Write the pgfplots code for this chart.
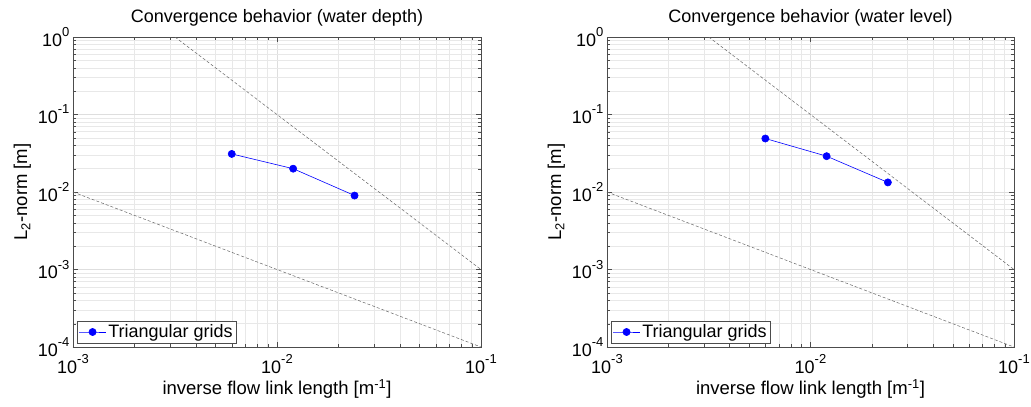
\documentclass[border=0pt]{standalone}
\usepackage{fontspec}
\setmainfont{Liberation Sans}
\usepackage{pgfplots}
\pgfplotsset{compat=1.18}

\definecolor{mblue}{RGB}{0,0,255}
\newcommand{\fsz}{\fontsize{18}{21}\selectfont}
\newcommand{\lsz}{\fontsize{18.5}{22}\selectfont}
\newcommand{\sps}[1]{\raisebox{0.55em}{\fontsize{13}{15}\selectfont #1}}

\begin{document}
\begin{tikzpicture}
\useasboundingbox (0,0) rectangle (1031pt,-407pt);

% left: water depth
\begin{loglogaxis}[
    at={(73pt,-347pt)}, anchor=south west,
    scale only axis, width=408pt, height=310pt,
    xmin=1e-3, xmax=1e-1, ymin=1e-4, ymax=1,
    xtick={1e-3,1e-2,1e-1},
    xticklabels={10\sps{-3},10\sps{-2},10\sps{-1}},
    ytick={1e-4,1e-3,1e-2,1e-1,1},
    yticklabels={10\sps{-4},10\sps{-3},10\sps{-2},10\sps{-1},10\sps{0}},
    grid=both,
    major grid style={black!13},
    minor grid style={black!9},
    axis line style={black!70},
    tick style={black!70},
    major tick length=5pt, minor tick length=3pt,
    tick label style={font=\fsz},
    xticklabel style={yshift=-4pt},
    label style={font=\lsz},
    xlabel style={yshift=1pt},
    title style={font=\fsz, yshift=1pt},
    title={Convergence behavior (water depth)},
    xlabel={inverse flow link length [m\textsuperscript{-1}]},
    ylabel={L\textsubscript{2}-norm [m]},
    legend style={font=\fsz, at={(0.01,0.013)}, anchor=south west,
        draw=black!70, inner sep=1.5pt},
    legend cell align=left,
    legend image code/.code={\draw[mark repeat=2,mark phase=2,#1]
        plot coordinates {(0pt,0pt) (13.5pt,0pt) (27pt,0pt)};},
]
\addplot[black!60, densely dashed, line width=0.5pt, forget plot] coordinates {(0.003162,1) (0.1,0.001)};
\addplot[black!60, densely dashed, line width=0.5pt, forget plot] coordinates {(0.001,0.01) (0.1,0.0001)};
\addplot[mblue, line width=0.6pt, mark=*, mark size=3.6pt, mark options={fill=mblue}] coordinates {
    (0.006,0.031) (0.012,0.020) (0.024,0.009)
};
\addlegendentry{Triangular grids}
\end{loglogaxis}

% right: water level
\begin{loglogaxis}[
    at={(607pt,-347pt)}, anchor=south west,
    scale only axis, width=407pt, height=310pt,
    xmin=1e-3, xmax=1e-1, ymin=1e-4, ymax=1,
    xtick={1e-3,1e-2,1e-1},
    xticklabels={10\sps{-3},10\sps{-2},10\sps{-1}},
    ytick={1e-4,1e-3,1e-2,1e-1,1},
    yticklabels={10\sps{-4},10\sps{-3},10\sps{-2},10\sps{-1},10\sps{0}},
    grid=both,
    major grid style={black!13},
    minor grid style={black!9},
    axis line style={black!70},
    tick style={black!70},
    major tick length=5pt, minor tick length=3pt,
    tick label style={font=\fsz},
    xticklabel style={yshift=-4pt},
    label style={font=\lsz},
    xlabel style={yshift=1pt},
    title style={font=\fsz, yshift=1pt},
    title={Convergence behavior (water level)},
    xlabel={inverse flow link length [m\textsuperscript{-1}]},
    ylabel={L\textsubscript{2}-norm [m]},
    legend style={font=\fsz, at={(0.01,0.013)}, anchor=south west,
        draw=black!70, inner sep=1.5pt},
    legend cell align=left,
    legend image code/.code={\draw[mark repeat=2,mark phase=2,#1]
        plot coordinates {(0pt,0pt) (13.5pt,0pt) (27pt,0pt)};},
]
\addplot[black!60, densely dashed, line width=0.5pt, forget plot] coordinates {(0.003162,1) (0.1,0.001)};
\addplot[black!60, densely dashed, line width=0.5pt, forget plot] coordinates {(0.001,0.01) (0.1,0.0001)};
\addplot[mblue, line width=0.6pt, mark=*, mark size=3.6pt, mark options={fill=mblue}] coordinates {
    (0.006,0.049) (0.012,0.029) (0.024,0.0133)
};
\addlegendentry{Triangular grids}
\end{loglogaxis}
\end{tikzpicture}
\end{document}
